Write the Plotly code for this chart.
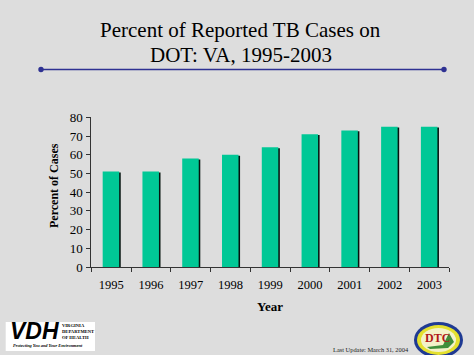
import plotly.graph_objects as go

years = [1995, 1996, 1997, 1998, 1999, 2000, 2001, 2002, 2003]
percent = [51, 51, 58, 60, 64, 71, 73, 75, 75]
y_ticks = [0, 10, 20, 30, 40, 50, 60, 70, 80]
title_lines = ["Percent of Reported TB Cases on", "DOT: VA, 1995-2003"]
y_title = "Percent of Cases"
x_title = "Year"
update_text = "Last Update: March 31, 2004"
tick_edges = [1994.5, 1995.5, 1996.5, 1997.5, 1998.5, 1999.5, 2000.5, 2001.5, 2002.5, 2003.5]

SERIF = "Liberation Serif, Times New Roman, serif"
SANS = "Liberation Sans, Arial, sans-serif"
BG = "#dddddd"
W, H = 474, 355
L, R, T, B = 91.3, 449.3, 117.3, 267


def px(x):
    return x / W


def py(y):
    return 1 - y / H


fig = go.Figure()
fig.add_trace(go.Bar(x=years, y=[v - 0.5 for v in percent], width=0.34, offset=-0.10,
                     marker=dict(color="#06140f", line_width=0), hoverinfo="skip"))
fig.add_trace(go.Bar(x=years, y=percent, width=0.415, offset=-0.214,
                     marker=dict(color="#00c896", line_width=0)))


def ell(x0, x1, y0, y1, color):
    return dict(type="circle", xref="paper", yref="paper", x0=px(x0), x1=px(x1), y0=py(y1), y1=py(y0),
                fillcolor=color, line_width=0)


shapes = [
    dict(type="line", xref="paper", yref="paper", x0=px(41), x1=px(444), y0=py(69.5), y1=py(69.5),
         line=dict(color="#2e3192", width=1.6)),
    ell(38.3, 43.7, 66.8, 72.2, "#2e3192"),
    ell(441.3, 446.7, 66.8, 72.2, "#2e3192"),
    dict(type="rect", xref="paper", yref="paper", x0=px(5.7), x1=px(95), y0=py(351), y1=py(322),
         fillcolor="white", line_width=0),
    ell(414, 463, 322, 358, "#1f3a93"),
    ell(417, 460, 325, 355, "#e4e02e"),
    ell(421, 456, 328, 352, "#f3f2c8"),
    dict(type="path", xref="paper", yref="paper",
         path=f"M {px(427)} {py(347)} L {px(443)} {py(345)} L {px(449)} {py(333)} L {px(454)} {py(342)} "
              f"L {px(448)} {py(348)} L {px(430)} {py(349)} Z",
         fillcolor="#3f8f3a", line_width=0),
]


def note(text, x, y, size, anchor="center", color="black", font=SERIF, angle=0):
    return dict(text=text, xref="paper", yref="paper", x=px(x), y=py(y), xanchor=anchor, yanchor="middle",
                showarrow=False, font=dict(family=font, size=size, color=color), textangle=angle)


annotations = [
    note(title_lines[0], 240.7, 30, 21),
    note(title_lines[1], 240.7, 55, 21),
    note(f"<b>{y_title}</b>", 54, 186, 12, angle=-90),
    note(f"<b>{x_title}</b>", 270, 306, 13),
    note(update_text, 331, 349, 6.4, "left", "#222222"),
    note("<b><i>VDH</i></b>", 8, 331, 23, "left", font=SANS),
    note("<b>VIRGINIA</b>", 60, 325.5, 4.6, "left"),
    note("<b>DEPARTMENT</b>", 60, 331, 4.6, "left"),
    note("<b>OF HEALTH</b>", 60, 337, 4.6, "left"),
    note("<b><i>Protecting You and Your Environment</i></b>", 11, 345.5, 4.4, "left"),
    note("<b>DTC</b>", 437, 337.5, 12, "center", "#b01818"),
]

fig.update_layout(
    width=W, height=H, autosize=False, showlegend=False, barmode="overlay",
    paper_bgcolor=BG, plot_bgcolor=BG,
    margin=dict(l=0, r=0, t=0, b=0, pad=0, autoexpand=False),
    font=dict(family=SERIF, color="black"),
    shapes=shapes, annotations=annotations,
    xaxis=dict(domain=[px(L), px(R)], range=[1994.5, 2003.5], tickmode="array", tickvals=years,
               ticks="", ticklabelstandoff=6, showgrid=False, zeroline=False, showline=True,
               linecolor="#333333", linewidth=1, tickfont=dict(size=12.5, family=SERIF),
               minor=dict(tickmode="array", tickvals=tick_edges, ticks="outside", ticklen=4,
                          tickcolor="#333333", showgrid=False)),
    yaxis=dict(domain=[py(B), py(T)], range=[0, 80], tickmode="array", tickvals=y_ticks,
               ticks="outside", ticklen=4, tickcolor="#333333", showgrid=False, zeroline=False,
               showline=True, linecolor="#333333", linewidth=1, ticklabelstandoff=1,
               tickfont=dict(size=13, family=SERIF)),
)

fig.write_html("out.html", config=dict(displayModeBar=False),
               post_script="document.body.style.margin='0';document.documentElement.style.overflow='hidden';")
